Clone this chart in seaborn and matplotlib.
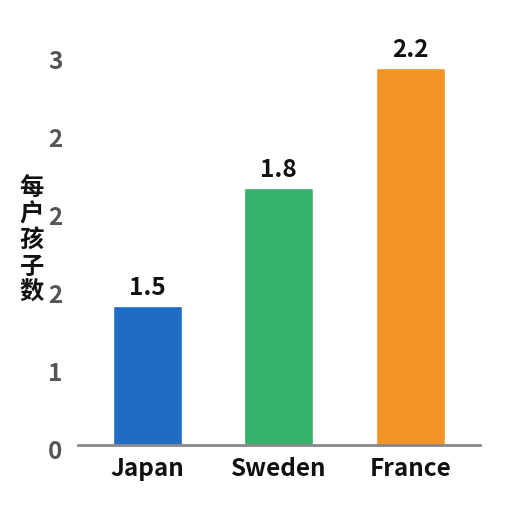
import matplotlib
matplotlib.use("Agg")
import matplotlib.pyplot as plt
import matplotlib.transforms as mtransforms
import seaborn as sns
import pandas as pd

# ---------------- DATA ----------------

countries = ["Japan", "Sweden", "France"]
bar_heights = [1.07, 1.98, 2.90]
value_labels = ["1.5", "1.8", "2.2"]
bar_colors = ["#1F6DC2", "#35B26B", "#F39427"]
tick_values = [0, 0.6, 1.2, 1.8, 2.4, 3.0]
tick_labels = ["0", "1", "2", "2", "2", "3"]
y_title = "每户孩子数"

data = pd.DataFrame({"country": countries, "height": bar_heights})

# ---------------- STYLE ----------------

sns.set_style("white")
plt.rcParams["font.family"] = ["Noto Sans CJK SC", "DejaVu Sans"]

fig = plt.figure(figsize=(5.12, 5.12), dpi=100)
ax = fig.add_axes([0.152, 0.131, 0.785, 0.787])

sns.barplot(data=data, x="country", y="height", hue="country",
            palette=bar_colors, width=0.525, legend=False, ax=ax,
            saturation=1)

# value labels on top of bars
for i, lab in enumerate(value_labels):
    ax.text(i, bar_heights[i] + 0.045, lab, ha="center", va="bottom",
            fontsize=17.5, fontweight="bold", color="#111111")

ax.set_xlim(-0.53, 2.53)
ax.set_ylim(0, 3.1)
ax.set_yticks(tick_values)
ax.set_yticklabels(tick_labels)
ax.tick_params(axis="y", length=0, pad=11, labelsize=17.5, labelcolor="#555555")
ax.tick_params(axis="x", length=0, pad=9, labelsize=17.5, labelcolor="#111111")

# y tick labels sit a little below their ticks in the reference
shift = mtransforms.ScaledTranslation(0, -5 / 100, fig.dpi_scale_trans)
for lab in ax.get_yticklabels():
    lab.set_fontweight("bold")
    lab.set_transform(lab.get_transform() + shift)
for lab in ax.get_xticklabels():
    lab.set_fontweight("bold")

ax.set_xlabel("")
ax.set_ylabel("")
fig.text(0.062, 0.53, "\n".join(y_title), ha="center", va="center",
         fontsize=17.5, fontweight="bold", color="#111111", linespacing=1.12)

sns.despine(ax=ax, left=True)
ax.spines["bottom"].set_color("#888888")
ax.spines["bottom"].set_linewidth(2)

fig.savefig("out.png", dpi=100)
